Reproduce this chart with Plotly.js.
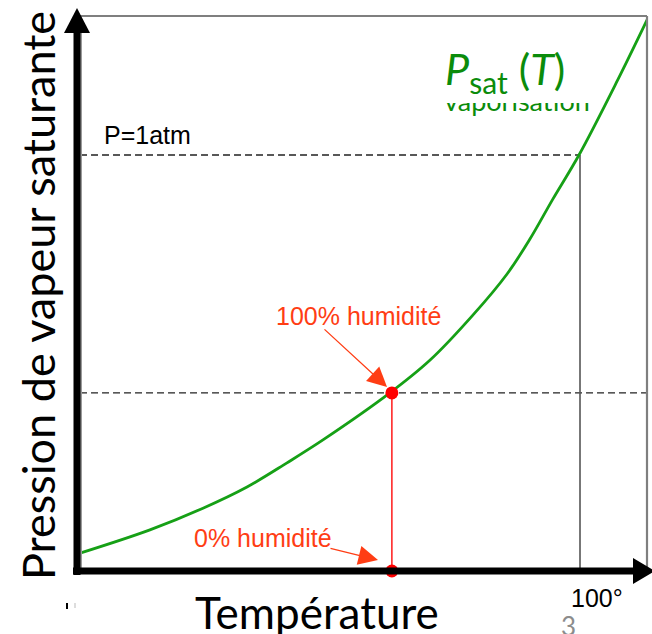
<!DOCTYPE html>
<html>
<head>
<meta charset="utf-8">
<script src="https://cdn.plot.ly/plotly-3.0.1.min.js"></script>
<style>html,body{margin:0;padding:0;background:#fff;}#chart{width:652px;height:634px;}</style>
</head>
<body>
<div id="chart"></div>
<script>
// ---- data ----
const tempC = [0.6, 14.5, 25.05, 33.8, 41.75, 48.9, 62.2, 70.2, 78.7, 85.5, 90.05, 94.6, 99.8, 107.4, 113.5];
const pSat  = [0.043, 0.099, 0.151, 0.202, 0.260, 0.315, 0.428, 0.507, 0.615, 0.714, 0.798, 0.894, 1.0, 1.178, 1.329];
const humidT = [62.6];
const humidP = [0.428];
const atmP = 1.0;
const boilT = 100;
const xTickLabels = ['100°'];
const yTitle = 'Pression de vapeur saturante';
const xTitle = 'Température';
const labels = ['P=1atm', '100% humidité', '0% humidité'];
const curveLabel = '<i>P</i><sub>sat</sub> (<i>T</i>)';
const hiddenLabel = ['vaporisation'];
const slideNumber = '3';

// ---- geometry helpers (pixel -> paper) ----
const L = 77, R = 647, T = 16, B = 571;
const PX = p => (p - L) / (R - L);
const PY = p => (B - p) / (B - T);
const xMax = (R - L) / 5.03;
const yMax = (B - T) / 416;

const green = '#16a016', greenText = '#0b8c0b', red = '#ff3d14';
const arial = '"Liberation Sans", Arial, sans-serif';
const calib = 'Lato, "Open Sans", sans-serif';

const traces = [
  { x: [humidT[0], humidT[0]], y: [humidP[0], 0], mode: 'lines', line: {color: '#ff1a1a', width: 1.5}, hoverinfo: 'skip' },
  { x: tempC, y: pSat, mode: 'lines', line: {color: green, width: 2.8, shape: 'spline', smoothing: 1}, hoverinfo: 'skip' },
  { x: [xMax * (517 - L) / (R - L)], y: [(B - 104) / 416], mode: 'text', text: hiddenLabel,
    textposition: 'middle center', textfont: {family: calib, size: 27, color: greenText}, hoverinfo: 'skip' },
  { x: humidT, y: humidP, mode: 'markers', marker: {color: '#ff0000', size: 13}, hoverinfo: 'skip' },
  { x: humidT, y: [0], mode: 'markers', marker: {color: '#ff0000', size: 13}, cliponaxis: false, hoverinfo: 'skip' }
];

const shapes = [
  // reference lines
  { type: 'line', xref: 'x', yref: 'y', x0: 0.6, x1: boilT, y0: atmP, y1: atmP, layer: 'below', line: {color: '#222', width: 1.3, dash: '7px,4px'} },
  { type: 'line', xref: 'x', yref: 'y', x0: 0.6, x1: xMax, y0: humidP[0], y1: humidP[0], layer: 'below', line: {color: '#222', width: 1.3, dash: '7px,4px'} },
  { type: 'line', xref: 'x', yref: 'y', x0: boilT, x1: boilT, y0: 0, y1: atmP, layer: 'below', line: {color: '#555', width: 1.6} },
  // gray frame
  { type: 'line', xref: 'paper', yref: 'paper', x0: PX(80), x1: 1, y0: 1, y1: 1, line: {color: '#7f7f7f', width: 2.2} },
  { type: 'line', xref: 'paper', yref: 'paper', x0: 1, x1: 1, y0: 0, y1: 1, line: {color: '#7f7f7f', width: 2.2} },
  // mask over hidden label
  { type: 'rect', xref: 'paper', yref: 'paper', x0: PX(436), x1: PX(599), y0: PY(103), y1: PY(78), fillcolor: '#fff', line: {width: 0} },
  // axes with arrows
  { type: 'line', xref: 'paper', yref: 'paper', x0: PX(81), x1: PX(81), y0: 0, y1: PY(33), line: {color: '#9a9a9a', width: 2} },
  { type: 'line', xref: 'paper', yref: 'paper', x0: 0, x1: 0, y0: PY(575), y1: PY(32), line: {color: '#000', width: 7} },
  { type: 'line', xref: 'paper', yref: 'paper', x0: PX(73), x1: PX(634), y0: 0, y1: 0, line: {color: '#000', width: 7} },
  { type: 'path', xref: 'paper', yref: 'paper', path: `M ${PX(64)} ${PY(33)} L ${PX(90)} ${PY(33)} L ${PX(77)} ${PY(8)} Z`, fillcolor: '#000', line: {width: 0} },
  { type: 'path', xref: 'paper', yref: 'paper', path: `M ${PX(633)} ${PY(558)} L ${PX(633)} ${PY(584)} L ${PX(655)} ${PY(571)} Z`, fillcolor: '#000', line: {width: 0} },
  // tiny marks bottom left
  { type: 'line', xref: 'paper', yref: 'paper', x0: PX(67), x1: PX(67), y0: PY(603), y1: PY(609), line: {color: '#000', width: 2} },
  { type: 'line', xref: 'paper', yref: 'paper', x0: PX(75), x1: PX(75), y0: PY(603), y1: PY(608), line: {color: '#bbb', width: 1} }
];

const ann = (text, x, y, font, extra) => Object.assign({ text, xref: 'paper', yref: 'paper', x, y, showarrow: false, font, xanchor: 'center', yanchor: 'middle' }, extra || {});

const annotations = [
  ann(yTitle, PX(38), PY(296), {family: calib, size: 45, color: '#000'}, {textangle: -90}),
  ann(xTitle, PX(317), PY(612), {family: calib, size: 44, color: '#000'}),
  ann(xTickLabels[0], PX(597), PY(598), {family: arial, size: 25, color: '#000'}),
  ann(slideNumber, PX(568), PY(608), {family: calib, size: 26, color: '#8c8c8c'}, {yanchor: 'top'}),
  ann(labels[0], PX(102), PY(135), {family: arial, size: 25, color: '#000'}, {xanchor: 'left'}),
  ann(labels[1], PX(358), PY(316), {family: arial, size: 25, color: red}),
  ann(labels[2], PX(263), PY(538), {family: arial, size: 25, color: red}),
  ann(curveLabel, PX(443), PY(71), {family: calib, size: 43, color: greenText}, {xanchor: 'left'}),
  { text: '', xref: 'paper', yref: 'paper', x: PX(387), y: PY(387), ax: -64, ay: -59, showarrow: true, arrowhead: 2, arrowsize: 3, arrowwidth: 1.3, arrowcolor: red, standoff: 0 },
  { text: '', xref: 'paper', yref: 'paper', x: PX(378), y: PY(560), ax: -49, ay: -12, showarrow: true, arrowhead: 2, arrowsize: 3, arrowwidth: 1.3, arrowcolor: red, standoff: 0 }
];

const layout = {
  width: 652, height: 634,
  margin: {l: L, r: 652 - R, t: T, b: 634 - B, pad: 0},
  paper_bgcolor: '#fff', plot_bgcolor: '#fff',
  showlegend: false,
  xaxis: {range: [0, xMax], showgrid: false, zeroline: false, showline: false, showticklabels: false, ticks: ''},
  yaxis: {range: [0, yMax], showgrid: false, zeroline: false, showline: false, showticklabels: false, ticks: ''},
  shapes, annotations
};

Plotly.newPlot('chart', traces, layout, {staticPlot: true, displayModeBar: false});
</script>
</body>
</html>
